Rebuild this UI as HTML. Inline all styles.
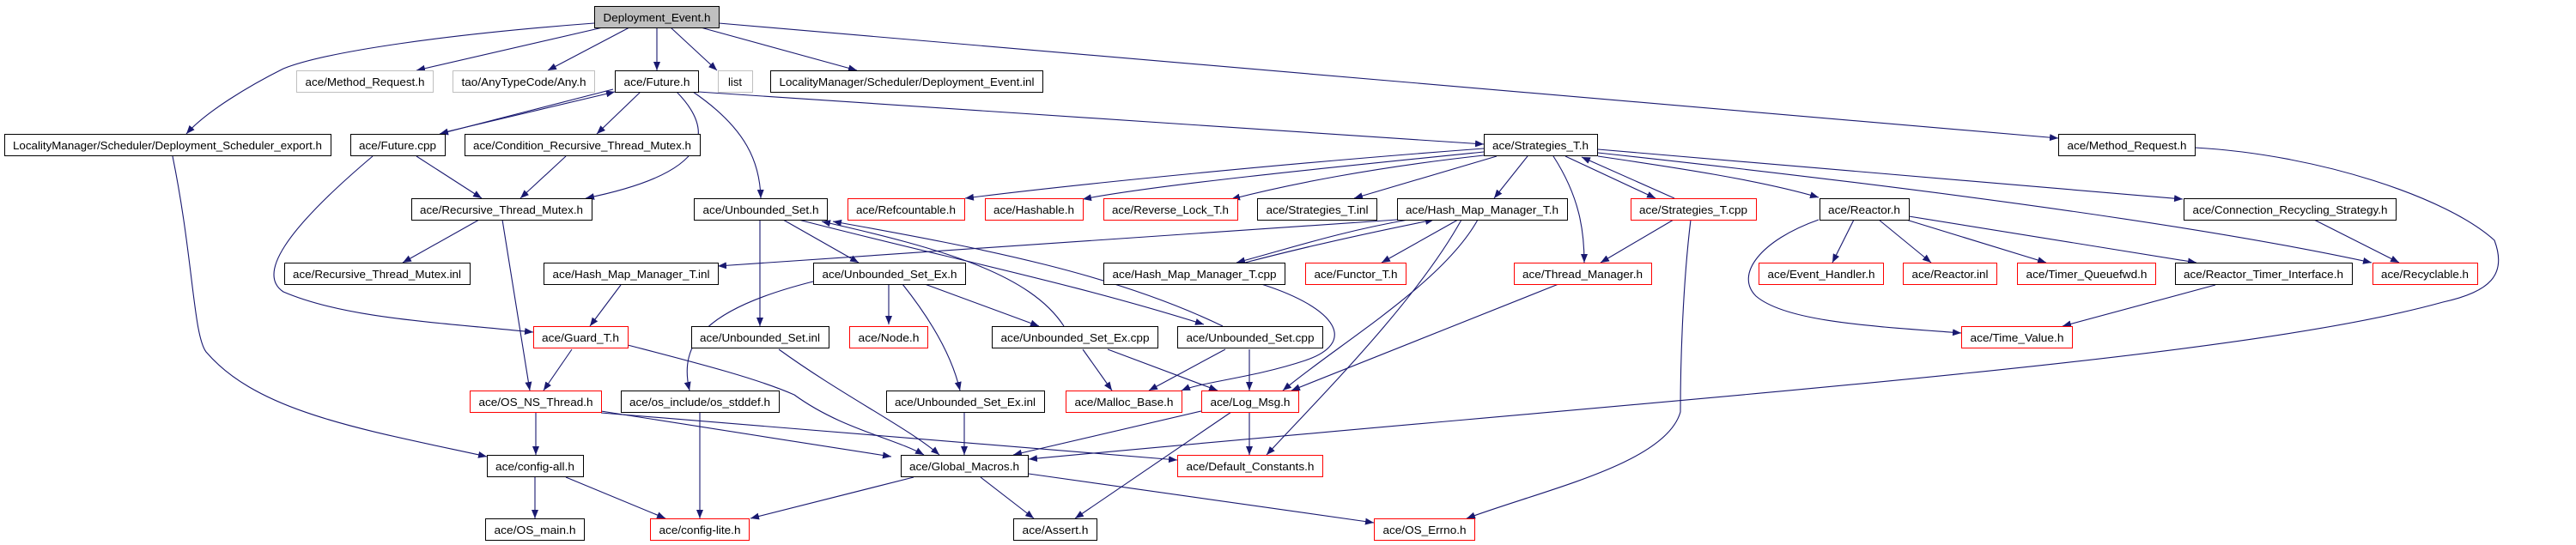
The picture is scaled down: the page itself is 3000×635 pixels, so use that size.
<!DOCTYPE html>
<html><head><meta charset="utf-8"><style>
html,body{margin:0;padding:0;background:#fff;}
svg{display:block;}
text{font-family:"Liberation Sans",sans-serif;font-size:13px;fill:#000;}
.e{fill:none;stroke:#191970;stroke-width:1.1;marker-end:url(#a);}
.n{fill:#fff;stroke:#000;stroke-width:1;}
.r{fill:#fff;stroke:#f00;stroke-width:1;}
.g{fill:#fff;stroke:#bfbfbf;stroke-width:1;}
</style></head><body>
<svg width="3000" height="635" viewBox="0 0 3000 635" xmlns="http://www.w3.org/2000/svg">
<defs><marker id="a" markerWidth="10" markerHeight="8" refX="10" refY="4" orient="auto" markerUnits="userSpaceOnUse"><path d="M0,0 L10,4 L0,8 z" fill="#191970"/></marker></defs>
<g>
<!-- edges from Deployment_Event -->
<path class="e" d="M692,27 C520,40 380,60 330,80 C290,100 240,130 217,156"/>
<path class="e" d="M702,32 L485,82"/>
<path class="e" d="M733,32 L638,82"/>
<path class="e" d="M765,32 L765,82"/>
<path class="e" d="M781,32 L835,82"/>
<path class="e" d="M816,32 L998,82"/>
<path class="e" d="M837,27 L2397,161"/>
<!-- Future.h -->
<path class="e" d="M714,104 L512,156"/>
<path class="e" d="M518,154 L716,107"/>
<path class="e" d="M746,107 L695,156"/>
<path class="e" d="M788,107 C830,150 835,200 682,231"/>
<path class="e" d="M807,107 C870,150 885,190 886,231"/>
<path class="e" d="M813,107 L1728,168"/>
<!-- Future.cpp etc -->
<path class="e" d="M485,182 L561,231"/>
<path class="e" d="M434,182 C330,270 300,320 330,340 C400,370 500,375 621,387"/>
<path class="e" d="M659,182 L606,231"/>
<path class="e" d="M201,182 C225,300 225,390 240,410 C300,480 420,500 567,532"/>
<path class="e" d="M558,256 L469,306"/>
<path class="e" d="M585,256 L617,455"/>
<path class="e" d="M723,332 L687,380"/>
<path class="e" d="M666,407 L633,455"/>
<path class="e" d="M731,402 C800,420 880,440 925,460 C980,500 1040,510 1076,530"/>
<path class="e" d="M700,479 L1038,532"/>
<path class="e" d="M700,481 L1371,536"/>
<path class="e" d="M624,480 L624,530"/>
<path class="e" d="M815,480 L815,604"/>
<path class="e" d="M623,555 L623,604"/>
<path class="e" d="M659,556 L775,604"/>
<path class="e" d="M1064,556 L874,604"/>
<path class="e" d="M1142,556 L1204,604"/>
<path class="e" d="M1198,552 L1600,609"/>
<path class="e" d="M1399,479 L1180,530"/>
<path class="e" d="M1434,480 L1252,604"/>
<path class="e" d="M1455,480 L1455,530"/>
<path class="e" d="M907,407 C980,460 1060,500 1094,530"/>
<path class="e" d="M1123,480 L1123,530"/>
<path class="e" d="M2556,172 C2700,180 2850,230 2905,280 C2920,320 2900,340 2845,352 C2600,420 2000,460 1198,535"/>
<!-- Unbounded_Set.h -->
<path class="e" d="M885,256 L885,380"/>
<path class="e" d="M912,256 L1000,306"/>
<path class="e" d="M947,328 C820,360 790,400 803,455"/>
<path class="e" d="M1239,380 C1200,320 1100,290 957,258"/>
<path class="e" d="M930,256 C1100,300 1250,330 1402,378"/>
<path class="e" d="M1424,380 C1300,320 1150,290 970,258"/>
<path class="e" d="M1035,331 L1035,378"/>
<path class="e" d="M1077,331 L1210,380"/>
<path class="e" d="M1051,331 C1090,380 1110,420 1118,455"/>
<path class="e" d="M1261,407 L1295,455"/>
<path class="e" d="M1290,407 L1418,455"/>
<path class="e" d="M1427,407 L1338,455"/>
<path class="e" d="M1455,407 L1455,455"/>
<path class="e" d="M1469,331 C1560,360 1580,400 1520,420 C1460,440 1400,445 1376,455"/>
<path class="e" d="M1721,256 C1680,330 1560,400 1494,455"/>
<path class="e" d="M1702,256 C1650,350 1540,460 1475,530"/>
<path class="e" d="M1815,331 L1504,455"/>
<path class="e" d="M1969,256 C1960,330 1957,420 1957,480 C1940,540 1800,570 1708,604"/>
<path class="e" d="M1949,256 L1864,306"/>
<path class="e" d="M1627,256 L836,310"/>
<path class="e" d="M1640,256 C1560,270 1500,290 1440,306"/>
<path class="e" d="M1450,306 C1530,285 1600,270 1670,256"/>
<path class="e" d="M1698,256 L1609,306"/>
<!-- Strategies_T.h -->
<path class="e" d="M1728,173 C1500,190 1250,215 1124,231"/>
<path class="e" d="M1728,177 C1550,195 1350,215 1261,232"/>
<path class="e" d="M1728,181 C1600,195 1500,215 1434,232"/>
<path class="e" d="M1743,182 L1577,231"/>
<path class="e" d="M1779,182 L1740,231"/>
<path class="e" d="M1809,182 C1840,230 1845,270 1845,306"/>
<path class="e" d="M1823,182 L1928,231"/>
<path class="e" d="M1950,231 L1842,183"/>
<path class="e" d="M1861,182 C1950,195 2050,210 2118,230"/>
<path class="e" d="M1861,174 L2542,232"/>
<path class="e" d="M1861,178 C2200,215 2550,260 2762,306"/>
<path class="e" d="M2695,256 L2794,306"/>
<path class="e" d="M2159,256 L2134,306"/>
<path class="e" d="M2188,256 L2249,306"/>
<path class="e" d="M2220,256 L2383,306"/>
<path class="e" d="M2223,252 L2558,306"/>
<path class="e" d="M2118,256 C2050,280 2020,320 2045,345 C2080,375 2180,380 2284,388"/>
<path class="e" d="M2580,332 L2402,380"/>
</g>
<g>
<rect x="692.5" y="7.5" width="145" height="25" fill="#bfbfbf" stroke="#000"/><text x="765" y="25" text-anchor="middle" textLength="125" lengthAdjust="spacingAndGlyphs">Deployment_Event.h</text>
<rect class="g" x="345.5" y="82.5" width="159" height="25"/><text x="425" y="100" text-anchor="middle" textLength="139" lengthAdjust="spacingAndGlyphs">ace/Method_Request.h</text>
<rect class="g" x="527.5" y="82.5" width="165" height="25"/><text x="610" y="100" text-anchor="middle" textLength="145" lengthAdjust="spacingAndGlyphs">tao/AnyTypeCode/Any.h</text>
<rect class="n" x="716.5" y="82.5" width="97" height="25"/><text x="765" y="100" text-anchor="middle" textLength="77" lengthAdjust="spacingAndGlyphs">ace/Future.h</text>
<rect class="g" x="836.5" y="82.5" width="40" height="25"/><text x="856" y="100" text-anchor="middle" textLength="16" lengthAdjust="spacingAndGlyphs">list</text>
<rect class="n" x="897.5" y="82.5" width="317" height="25"/><text x="1056" y="100" text-anchor="middle" textLength="297" lengthAdjust="spacingAndGlyphs">LocalityManager/Scheduler/Deployment_Event.inl</text>

<rect class="n" x="5.5" y="156.5" width="380" height="25"/><text x="195" y="174" text-anchor="middle" textLength="360" lengthAdjust="spacingAndGlyphs">LocalityManager/Scheduler/Deployment_Scheduler_export.h</text>
<rect class="n" x="408.5" y="156.5" width="110" height="25"/><text x="463" y="174" text-anchor="middle" textLength="90" lengthAdjust="spacingAndGlyphs">ace/Future.cpp</text>
<rect class="n" x="541.5" y="156.5" width="274" height="25"/><text x="678" y="174" text-anchor="middle" textLength="254" lengthAdjust="spacingAndGlyphs">ace/Condition_Recursive_Thread_Mutex.h</text>
<rect class="n" x="1728.5" y="156.5" width="132" height="25"/><text x="1794" y="174" text-anchor="middle" textLength="112" lengthAdjust="spacingAndGlyphs">ace/Strategies_T.h</text>
<rect class="n" x="2397.5" y="156.5" width="159" height="25"/><text x="2477" y="174" text-anchor="middle" textLength="139" lengthAdjust="spacingAndGlyphs">ace/Method_Request.h</text>

<rect class="n" x="479.5" y="231.5" width="210" height="25"/><text x="584" y="249" text-anchor="middle" textLength="190" lengthAdjust="spacingAndGlyphs">ace/Recursive_Thread_Mutex.h</text>
<rect class="n" x="808.5" y="231.5" width="155" height="25"/><text x="886" y="249" text-anchor="middle" textLength="135" lengthAdjust="spacingAndGlyphs">ace/Unbounded_Set.h</text>
<rect class="r" x="987.5" y="231.5" width="136" height="25"/><text x="1055" y="249" text-anchor="middle" textLength="116" lengthAdjust="spacingAndGlyphs">ace/Refcountable.h</text>
<rect class="r" x="1147.5" y="231.5" width="114" height="25"/><text x="1204" y="249" text-anchor="middle" textLength="94" lengthAdjust="spacingAndGlyphs">ace/Hashable.h</text>
<rect class="r" x="1285.5" y="231.5" width="156" height="25"/><text x="1363" y="249" text-anchor="middle" textLength="136" lengthAdjust="spacingAndGlyphs">ace/Reverse_Lock_T.h</text>
<rect class="n" x="1464.5" y="231.5" width="139" height="25"/><text x="1534" y="249" text-anchor="middle" textLength="119" lengthAdjust="spacingAndGlyphs">ace/Strategies_T.inl</text>
<rect class="n" x="1627.5" y="231.5" width="198" height="25"/><text x="1726" y="249" text-anchor="middle" textLength="178" lengthAdjust="spacingAndGlyphs">ace/Hash_Map_Manager_T.h</text>
<rect class="r" x="1899.5" y="231.5" width="146" height="25"/><text x="1972" y="249" text-anchor="middle" textLength="126" lengthAdjust="spacingAndGlyphs">ace/Strategies_T.cpp</text>
<rect class="n" x="2119.5" y="231.5" width="104" height="25"/><text x="2171" y="249" text-anchor="middle" textLength="84" lengthAdjust="spacingAndGlyphs">ace/Reactor.h</text>
<rect class="n" x="2543.5" y="231.5" width="247" height="25"/><text x="2667" y="249" text-anchor="middle" textLength="227" lengthAdjust="spacingAndGlyphs">ace/Connection_Recycling_Strategy.h</text>

<rect class="n" x="331.5" y="306.5" width="216" height="25"/><text x="439" y="324" text-anchor="middle" textLength="196" lengthAdjust="spacingAndGlyphs">ace/Recursive_Thread_Mutex.inl</text>
<rect class="n" x="633.5" y="306.5" width="203" height="25"/><text x="735" y="324" text-anchor="middle" textLength="183" lengthAdjust="spacingAndGlyphs">ace/Hash_Map_Manager_T.inl</text>
<rect class="n" x="947.5" y="306.5" width="177" height="25"/><text x="1036" y="324" text-anchor="middle" textLength="157" lengthAdjust="spacingAndGlyphs">ace/Unbounded_Set_Ex.h</text>
<rect class="n" x="1285.5" y="306.5" width="211" height="25"/><text x="1391" y="324" text-anchor="middle" textLength="191" lengthAdjust="spacingAndGlyphs">ace/Hash_Map_Manager_T.cpp</text>
<rect class="r" x="1520.5" y="306.5" width="117" height="25"/><text x="1579" y="324" text-anchor="middle" textLength="97" lengthAdjust="spacingAndGlyphs">ace/Functor_T.h</text>
<rect class="r" x="1763.5" y="306.5" width="160" height="25"/><text x="1843" y="324" text-anchor="middle" textLength="140" lengthAdjust="spacingAndGlyphs">ace/Thread_Manager.h</text>
<rect class="r" x="2048.5" y="306.5" width="145" height="25"/><text x="2121" y="324" text-anchor="middle" textLength="125" lengthAdjust="spacingAndGlyphs">ace/Event_Handler.h</text>
<rect class="r" x="2216.5" y="306.5" width="109" height="25"/><text x="2271" y="324" text-anchor="middle" textLength="89" lengthAdjust="spacingAndGlyphs">ace/Reactor.inl</text>
<rect class="r" x="2349.5" y="306.5" width="161" height="25"/><text x="2430" y="324" text-anchor="middle" textLength="141" lengthAdjust="spacingAndGlyphs">ace/Timer_Queuefwd.h</text>
<rect class="n" x="2533.5" y="306.5" width="206" height="25"/><text x="2636" y="324" text-anchor="middle" textLength="186" lengthAdjust="spacingAndGlyphs">ace/Reactor_Timer_Interface.h</text>
<rect class="r" x="2763.5" y="306.5" width="122" height="25"/><text x="2824" y="324" text-anchor="middle" textLength="102" lengthAdjust="spacingAndGlyphs">ace/Recyclable.h</text>

<rect class="r" x="621.5" y="380.5" width="110" height="25"/><text x="676" y="398" text-anchor="middle" textLength="90" lengthAdjust="spacingAndGlyphs">ace/Guard_T.h</text>
<rect class="n" x="805.5" y="380.5" width="160" height="25"/><text x="885" y="398" text-anchor="middle" textLength="140" lengthAdjust="spacingAndGlyphs">ace/Unbounded_Set.inl</text>
<rect class="r" x="989.5" y="380.5" width="91" height="25"/><text x="1035" y="398" text-anchor="middle" textLength="71" lengthAdjust="spacingAndGlyphs">ace/Node.h</text>
<rect class="n" x="1155.5" y="380.5" width="193" height="25"/><text x="1252" y="398" text-anchor="middle" textLength="173" lengthAdjust="spacingAndGlyphs">ace/Unbounded_Set_Ex.cpp</text>
<rect class="n" x="1371.5" y="380.5" width="169" height="25"/><text x="1456" y="398" text-anchor="middle" textLength="149" lengthAdjust="spacingAndGlyphs">ace/Unbounded_Set.cpp</text>
<rect class="r" x="2284.5" y="380.5" width="129" height="25"/><text x="2349" y="398" text-anchor="middle" textLength="109" lengthAdjust="spacingAndGlyphs">ace/Time_Value.h</text>

<rect class="r" x="547.5" y="455.5" width="153" height="25"/><text x="624" y="473" text-anchor="middle" textLength="133" lengthAdjust="spacingAndGlyphs">ace/OS_NS_Thread.h</text>
<rect class="n" x="723.5" y="455.5" width="184" height="25"/><text x="815" y="473" text-anchor="middle" textLength="164" lengthAdjust="spacingAndGlyphs">ace/os_include/os_stddef.h</text>
<rect class="n" x="1032.5" y="455.5" width="184" height="25"/><text x="1124" y="473" text-anchor="middle" textLength="164" lengthAdjust="spacingAndGlyphs">ace/Unbounded_Set_Ex.inl</text>
<rect class="r" x="1241.5" y="455.5" width="135" height="25"/><text x="1309" y="473" text-anchor="middle" textLength="115" lengthAdjust="spacingAndGlyphs">ace/Malloc_Base.h</text>
<rect class="r" x="1399.5" y="455.5" width="113" height="25"/><text x="1456" y="473" text-anchor="middle" textLength="93" lengthAdjust="spacingAndGlyphs">ace/Log_Msg.h</text>

<rect class="n" x="567.5" y="530.5" width="112" height="25"/><text x="623" y="548" text-anchor="middle" textLength="92" lengthAdjust="spacingAndGlyphs">ace/config-all.h</text>
<rect class="n" x="1049.5" y="530.5" width="148" height="25"/><text x="1123" y="548" text-anchor="middle" textLength="128" lengthAdjust="spacingAndGlyphs">ace/Global_Macros.h</text>
<rect class="r" x="1371.5" y="530.5" width="169" height="25"/><text x="1456" y="548" text-anchor="middle" textLength="149" lengthAdjust="spacingAndGlyphs">ace/Default_Constants.h</text>

<rect class="n" x="565.5" y="604.5" width="115" height="25"/><text x="623" y="622" text-anchor="middle" textLength="95" lengthAdjust="spacingAndGlyphs">ace/OS_main.h</text>
<rect class="r" x="757.5" y="604.5" width="115" height="25"/><text x="815" y="622" text-anchor="middle" textLength="95" lengthAdjust="spacingAndGlyphs">ace/config-lite.h</text>
<rect class="n" x="1180.5" y="604.5" width="97" height="25"/><text x="1229" y="622" text-anchor="middle" textLength="77" lengthAdjust="spacingAndGlyphs">ace/Assert.h</text>
<rect class="r" x="1600.5" y="604.5" width="117" height="25"/><text x="1659" y="622" text-anchor="middle" textLength="97" lengthAdjust="spacingAndGlyphs">ace/OS_Errno.h</text>
</g>
</svg>
</body></html>
